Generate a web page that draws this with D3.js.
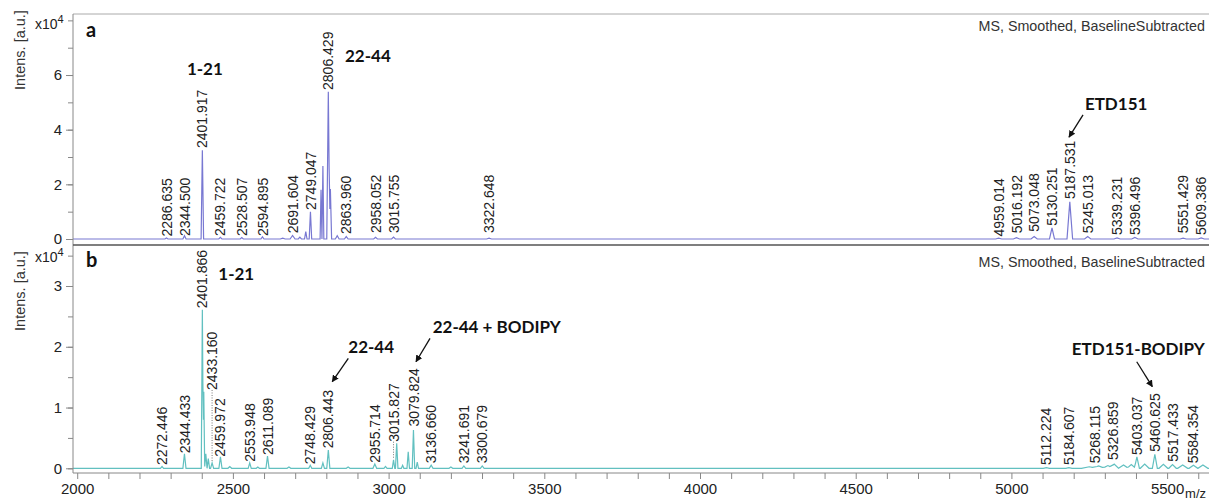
<!DOCTYPE html>
<html><head><meta charset="utf-8">
<script src="https://cdn.jsdelivr.net/npm/d3@7"></script>
<style>body{margin:0;background:#fff;} svg{display:block;}</style>
</head><body><svg id="chart" width="1209" height="502"></svg>
<script>
// ---------------- DATA ----------------
// peaks: [m/z, intensity (counts), half width (m/z)]
const peaksA = [
  [2286.6, 400, 5], [2344.5, 1200, 5], [2401.9, 32500, 4], [2459.7, 600, 5], [2528.5, 500, 5],
  [2594.9, 800, 5], [2660, 300, 8], [2691.6, 1300, 8], [2715, 700, 5], [2734, 2700, 4],
  [2749.0, 10000, 4], [2783, 18000, 3], [2789, 26700, 3], [2806.4, 53900, 5], [2813, 18300, 4],
  [2835, 1200, 6], [2864.0, 900, 6], [2958.1, 600, 6], [3015.8, 700, 6], [3322.6, 300, 8],
  [4959.0, 300, 10], [5016.2, 500, 10], [5073.0, 900, 10], [5130.3, 4100, 8], [5187.5, 13600, 9],
  [5245.0, 900, 10], [5339.2, 400, 10], [5396.5, 600, 10], [5551.4, 300, 10], [5609.4, 400, 10]
];
// labels: [m/z, text, intensity level where label starts]
const labelsA = [
  [2286.635, "2286.635", 150], [2344.500, "2344.500", 350], [2401.917, "2401.917", 32560],
  [2459.722, "2459.722", 350], [2528.507, "2528.507", 350], [2594.895, "2594.895", 350],
  [2691.604, "2691.604", 1350], [2749.047, "2749.047", 9880], [2806.429, "2806.429", 53800],
  [2863.960, "2863.960", 1100], [2958.052, "2958.052", 1460], [3015.755, "3015.755", 1460],
  [3322.648, "3322.648", 1460], [4959.014, "4959.014", 150], [5016.192, "5016.192", 1350],
  [5073.048, "5073.048", 1950], [5130.251, "5130.251", 4100], [5187.531, "5187.531", 13900],
  [5245.013, "5245.013", 1350], [5339.231, "5339.231", 730], [5396.496, "5396.496", 730],
  [5551.429, "5551.429", 1350], [5609.386, "5609.386", 730]
];
const peaksB = [
  [2272.4, 300, 5], [2344.4, 2400, 5], [2401.9, 26100, 3.5], [2406.5, 12600, 3], [2413, 2400, 4],
  [2421, 1600, 4], [2433.2, 900, 5], [2460.0, 1900, 5], [2490, 300, 6], [2554.0, 900, 5],
  [2580, 200, 5], [2611.1, 2000, 5], [2680, 200, 6], [2748.4, 500, 5], [2789, 900, 5],
  [2806.4, 3000, 5], [2870, 200, 6], [2955.7, 700, 6], [2990, 300, 5], [3015.8, 1400, 4],
  [3026, 4100, 4], [3045, 500, 4], [3063, 2700, 4], [3079.8, 6300, 4], [3092, 1000, 4],
  [3136.7, 500, 6], [3200, 200, 6], [3241.7, 400, 6], [3300.7, 400, 6],
  [5112.2, 100, 10], [5184.6, 100, 10], [5250, 250, 25], [5280, 400, 20], [5310, 450, 18],
  [5330, 700, 14], [5360, 550, 16], [5385, 600, 14], [5403.0, 1900, 8], [5428, 700, 14],
  [5460.6, 2300, 8], [5488, 650, 14], [5517.4, 600, 12], [5550, 550, 16], [5584.4, 500, 14],
  [5615, 550, 16]
];
const labelsB = [
  [2272.446, "2272.446", 200], [2344.433, "2344.433", 2140], [2401.866, "2401.866", 26000],
  [2433.160, "2433.160", 12560], [2459.972, "2459.972", 1580], [2553.948, "2553.948", 760],
  [2611.089, "2611.089", 1860], [2748.429, "2748.429", 330], [2806.443, "2806.443", 2960],
  [2955.714, "2955.714", 590], [3015.827, "3015.827", 4050], [3079.824, "3079.824", 6530],
  [3136.660, "3136.660", 490], [3241.691, "3241.691", 490], [3300.679, "3300.679", 490],
  [5112.224, "5112.224", 200], [5184.607, "5184.607", 200], [5268.115, "5268.115", 490],
  [5326.859, "5326.859", 1040], [5403.037, "5403.037", 1860], [5460.625, "5460.625", 2400],
  [5517.433, "5517.433", 760], [5584.354, "5584.354", 490]
];
// annotations: text, m/z, intensity, anchor, optional arrow [mz1, v1, mz2, v2]
const annotationsA = [
  {text: "1-21", mz: 2410, v: 60000, anchor: "middle"},
  {text: "22-44", mz: 2860, v: 64900, anchor: "start"},
  {text: "ETD151", mz: 5236, v: 47200, anchor: "start", arrow: [5230, 45400, 5185, 37300]}
];
const annotationsB = [
  {text: "1-21", mz: 2453, v: 30990, anchor: "start"},
  {text: "22-44", mz: 2870.6, v: 18920, anchor: "start", arrow: [2870.6, 18100, 2819, 14250]},
  {text: "22-44 + BODIPY", mz: 3141.6, v: 22215, anchor: "start", arrow: [3133, 21390, 3088, 17540]},
  {text: "ETD151-BODIPY", mz: 5621, v: 18640, anchor: "end", arrow: [5402.4, 17540, 5452.5, 13430]}
];
const xTicks = d3.range(2000, 5601, 100);
const xTickLabels = [2000, 2500, 3000, 3500, 4000, 4500, 5000, 5500];
const yTicksA = [0, 10000, 20000, 30000, 40000, 50000, 60000, 70000, 80000];
const yTickLabelsA = [0, 20000, 40000, 60000];
const yTicksB = [0, 5000, 10000, 15000, 20000, 25000, 30000, 35000];
const yTickLabelsB = [0, 10000, 20000, 30000];
const panelTitle = "MS, Smoothed, BaselineSubtracted";

// ---------------- LAYOUT ----------------
const svg = d3.select("#chart");
const L = 73, R = 1209;
const x = d3.scaleLinear().domain([1986.5, 5634.5]).range([L, R]);
const yA = d3.scaleLinear().domain([0, 82330]).range([239, 14]);
const yB = d3.scaleLinear().domain([0, 36750]).range([468.3, 245]);
const sans = "'Liberation Sans', Arial, sans-serif";
const boldF = "Lato, 'Open Sans', sans-serif";

function traceOf(peaks) {
  const xs = new Set([x.domain()[0], x.domain()[1]]);
  peaks.forEach(([m, h, w]) => { xs.add(m - w); xs.add(m); xs.add(m + w); });
  const arr = Array.from(xs).filter(v => v >= x.domain()[0] && v <= x.domain()[1]).sort((a, b) => a - b);
  return arr.map(v => [v, valueAt(peaks, v)]);
}
function valueAt(peaks, v) {
  let s = 0;
  peaks.forEach(([m, h, w]) => { s += Math.max(0, h * (1 - Math.abs(v - m) / w)); });
  return s;
}

function drawPanel(cfg) {
  const g = svg.append("g");
  const y = cfg.y;
  const line = d3.line().x(d => x(d[0])).y(d => y(d[1]));
  g.append("path").datum(traceOf(cfg.peaks))
    .attr("d", line).attr("fill", "none").attr("stroke", cfg.color).attr("stroke-width", 1.2);
  const axMinor = d3.axisLeft(y).tickValues(cfg.yTicks).tickSize(5).tickFormat("");
  const gm = g.append("g").attr("transform", `translate(${L},0)`).call(axMinor);
  gm.select(".domain").remove();
  gm.selectAll("line").attr("stroke", "#888");
  const axMajor = d3.axisLeft(y).tickValues(cfg.yLabels).tickSize(7).tickPadding(4)
    .tickFormat(d => d3.format("d")(d / 10000));
  const ga = g.append("g").attr("transform", `translate(${L},0)`).call(axMajor);
  ga.select(".domain").remove();
  ga.selectAll("line").attr("stroke", "#888");
  ga.selectAll("text").attr("font-family", sans).attr("font-size", 15).attr("fill", "#222");
  g.append("line").attr("x1", L).attr("x2", L).attr("y1", y.range()[1]).attr("y2", cfg.axisBottom)
    .attr("stroke", "#888").attr("stroke-width", 1);
  const t = g.append("text").attr("x", 35).attr("y", cfg.expY).attr("font-family", sans)
    .attr("font-size", 14).attr("fill", "#222");
  t.append("tspan").text("x10");
  t.append("tspan").attr("dy", -6).attr("font-size", 11).text("4");
  g.append("text").attr("transform", `translate(20,${cfg.ylabY}) rotate(-90)`)
    .attr("text-anchor", "middle").attr("dy", "0.35em").attr("font-family", sans)
    .attr("font-size", 14.5).attr("fill", "#333").text("Intens. [a.u.]");
  g.append("text").attr("x", 86).attr("y", cfg.letterY).attr("font-family", boldF)
    .attr("font-weight", 700).attr("font-size", 20).attr("fill", "#111").text(cfg.letter);
  g.append("text").attr("x", 1205).attr("y", cfg.titleY).attr("text-anchor", "end")
    .attr("font-family", sans).attr("font-size", 14.3).attr("fill", "#333").text(panelTitle);
  cfg.labels.forEach(([m, txt, lv]) => {
    const px = x(m), py = y(lv) - 2;
    const spec = y(valueAt(cfg.peaks, m));
    if (spec - py > 10) {
      g.append("line").attr("x1", px).attr("x2", px).attr("y1", py).attr("y2", spec - 1)
        .attr("stroke", "#777").attr("stroke-width", 1).attr("stroke-dasharray", "1,1.5");
    }
    g.append("text").attr("transform", `translate(${px},${py}) rotate(-90)`)
      .attr("dy", "0.36em").attr("font-family", sans).attr("font-size", 14)
      .attr("fill", "#222").text(txt);
  });
  cfg.annotations.forEach(a => {
    g.append("text").attr("x", x(a.mz)).attr("y", y(a.v)).attr("text-anchor", a.anchor)
      .attr("font-family", boldF).attr("font-weight", 700).attr("font-size", 17)
      .attr("fill", "#111").text(a.text);
    if (a.arrow) {
      g.append("line").attr("x1", x(a.arrow[0])).attr("y1", y(a.arrow[1]))
        .attr("x2", x(a.arrow[2])).attr("y2", y(a.arrow[3]))
        .attr("stroke", "#111").attr("stroke-width", 1.3).attr("marker-end", "url(#arrow)");
    }
  });
}

svg.append("defs").append("marker").attr("id", "arrow").attr("viewBox", "0 0 10 10")
  .attr("refX", 9).attr("refY", 5).attr("markerWidth", 7).attr("markerHeight", 7)
  .attr("markerUnits", "userSpaceOnUse").attr("orient", "auto")
  .append("path").attr("d", "M0,0 L10,5 L0,10 z").attr("fill", "#111");

svg.append("line").attr("x1", L).attr("x2", R).attr("y1", 14).attr("y2", 14)
  .attr("stroke", "#aaa").attr("stroke-width", 1);

drawPanel({y: yA, peaks: peaksA, labels: labelsA, annotations: annotationsA, color: "#7878d2",
  yTicks: yTicksA, yLabels: yTickLabelsA, axisBottom: 245, expY: 29, ylabY: 50, letter: "a",
  letterY: 37, titleY: 31});
drawPanel({y: yB, peaks: peaksB, labels: labelsB, annotations: annotationsB, color: "#62c0c0",
  yTicks: yTicksB, yLabels: yTickLabelsB, axisBottom: 473, expY: 262, ylabY: 291, letter: "b",
  letterY: 267, titleY: 266.5});

svg.append("line").attr("x1", L).attr("x2", R).attr("y1", 245).attr("y2", 245)
  .attr("stroke", "#555").attr("stroke-width", 1.5);

const xAxis = d3.axisBottom(x).tickValues(xTicks).tickSize(6).tickPadding(4)
  .tickFormat(d => xTickLabels.includes(d) ? d3.format("d")(d) : "");
const gx = svg.append("g").attr("transform", "translate(0,473)").call(xAxis);
gx.select(".domain").remove();
gx.selectAll("line").attr("stroke", "#888");
gx.selectAll("text").attr("font-family", sans).attr("font-size", 15).attr("fill", "#222");
svg.append("line").attr("x1", L).attr("x2", R).attr("y1", 473).attr("y2", 473)
  .attr("stroke", "#888").attr("stroke-width", 1);
svg.append("text").attr("x", 1206).attr("y", 498).attr("text-anchor", "end").attr("font-family", sans)
  .attr("font-size", 13).attr("fill", "#222").text("m/z");
</script></body></html>
